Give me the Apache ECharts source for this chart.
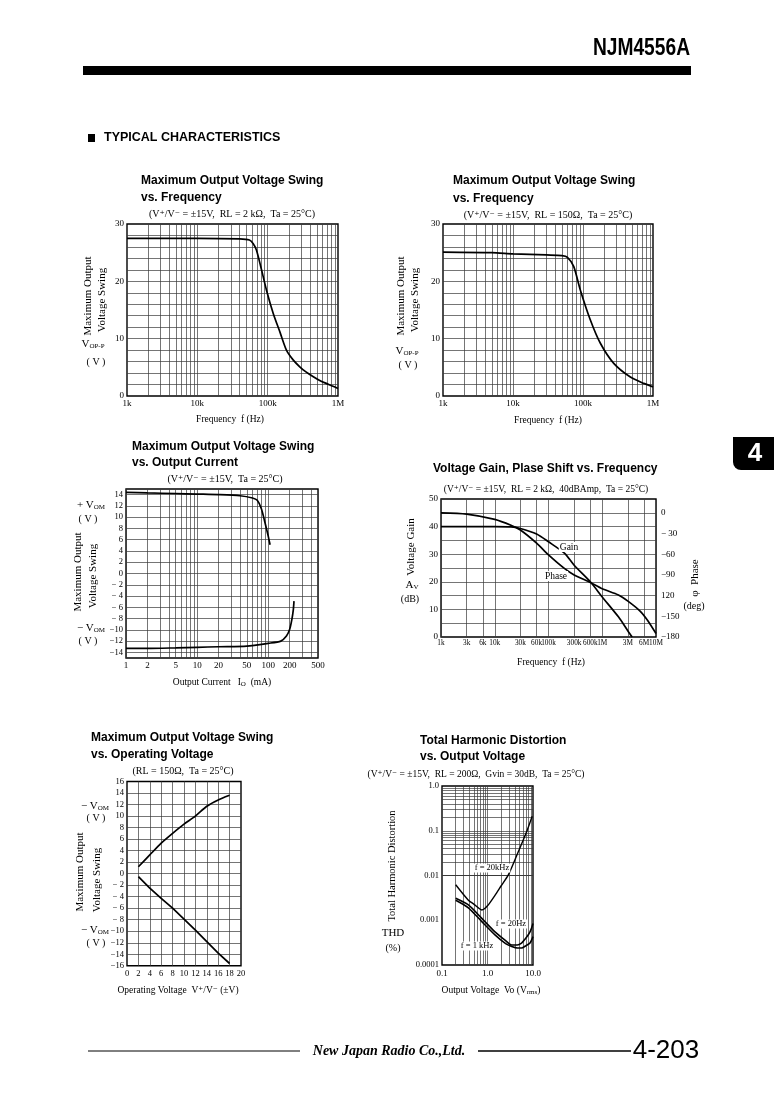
<!DOCTYPE html>
<html><head><meta charset="utf-8">
<script src="https://cdn.jsdelivr.net/npm/echarts@6/dist/echarts.min.js"></script>
<style>html,body{margin:0;padding:0;background:#fff}#c{width:774px;height:1093px}</style>
</head><body><div id="c"></div>
<script>
// ---------- DATA ----------
// Chart 1: Max output swing vs frequency (RL=2k)
const c1Freq  = [1000, 10000, 40000, 55000, 62000, 69000, 80000, 96000, 120000, 150000, 185000, 230000, 286000, 350000, 440000, 550000, 680000, 850000, 1000000];
const c1Swing = [27.5, 27.5, 27.4, 27.2, 26.6, 25.5, 22.5, 18.5, 14.4, 11.1, 8.0, 6.3, 5.1, 4.2, 3.4, 2.7, 2.2, 1.7, 1.3];
// Chart 2: Max output swing vs frequency (RL=150)
const c2Freq  = [1000, 5000, 10000, 30000, 50000, 60000, 73600, 91500, 127000, 177000, 275000, 475000, 737000, 1000000];
const c2Swing = [25.1, 25.0, 24.8, 24.6, 24.5, 24.2, 22.6, 18.5, 13.3, 9.2, 5.7, 3.3, 2.2, 1.6];
// Chart 3: Max output swing vs output current
const c3CurPos = [1, 2, 5, 10, 20, 40, 60, 70, 80, 90, 100, 106];
const c3VomPos = [14.4, 14.3, 14.2, 14.1, 14.0, 13.8, 13.4, 13.0, 11.5, 9.0, 6.6, 5.1];
const c3CurNeg = [1, 2, 5, 10, 20, 50, 100, 150, 180, 200, 215, 225, 230];
const c3VomNeg = [-13.3, -13.3, -13.2, -13.1, -13.0, -12.9, -12.4, -12.0, -11.1, -9.9, -8.1, -6.4, -4.9];
// Chart 4: Voltage gain / phase vs frequency
const c4GainFreq  = [1e3, 1e4, 2e4, 3e4, 6e4, 1e5, 2e5, 3e5, 6e5, 1e6, 2e6, 3e6, 3.6e6];
const c4Gain      = [40.0, 40.0, 39.9, 39.3, 37.3, 34.5, 30.3, 26.0, 20.0, 14.5, 7.3, 2.2, 0];
const c4PhaseFreq = [1e3, 3e3, 1e4, 2e4, 3e4, 6e4, 1e5, 2e5, 3e5, 6e5, 1e6, 2e6, 3e6, 5e6, 7e6, 1e7];
const c4Phase     = [0, -1.8, -9.5, -18, -25, -44, -61, -81, -90, -101, -110, -119, -128, -142, -156, -175];
// Chart 5: Max output swing vs operating voltage
const c5Supply = [2, 4, 6, 8, 10, 12, 14, 16, 18];
const c5Upper  = [1.2, 3.25, 5.3, 7.0, 8.6, 10.0, 11.7, 12.8, 13.6];
const c5Lower  = [-0.5, -2.5, -4.3, -6.0, -7.9, -9.8, -11.8, -13.8, -15.6];
// Chart 6: THD vs output voltage
const c6Vo20k  = [0.2, 0.38, 0.5, 0.75, 1.0, 1.46, 2.0, 2.87, 4.75, 7.25, 9.6];
const c6Thd20k = [0.0062, 0.0028, 0.0023, 0.0017, 0.0021, 0.0036, 0.0059, 0.0103, 0.034, 0.095, 0.21];
const c6Vo     = [0.2, 0.38, 0.75, 1.46, 2.5, 3.4, 4.5, 5.6, 7, 8.6, 10];
const c6Thd20  = [0.0031, 0.0022, 0.0011, 0.00055, 0.00035, 0.00028, 0.00028, 0.00031, 0.0004, 0.00055, 0.00085];
const c6Thd1k  = [0.0028, 0.0019, 0.00093, 0.00047, 0.0003, 0.00026, 0.00024, 0.00024, 0.00027, 0.00031, 0.00043];

// ---------- TICK LABELS ----------
const c1XLabels = ['1k', '10k', '100k', '1M'];
const c2XLabels = ['1k', '10k', '100k', '1M'];
const c12YTicks = [0, 10, 20, 30];
const c12YLabels = ['0', '10', '20', '30'];
const c3XTicks = [1, 2, 5, 10, 20, 50, 100, 200, 500];
const c3XLabels = ['1', '2', '5', '10', '20', '50', '100', '200', '500'];
const c3YTicks = [14, 12, 10, 8, 6, 4, 2, 0, -2, -4, -6, -8, -10, -12, -14];
const c3YLabels = ['14', '12', '10', '8', '6', '4', '2', '0', '− 2', '− 4', '− 6', '− 8', '−10', '−12', '−14'];
const c4XTicks = [1e3, 3e3, 6e3, 1e4, 3e4, 6e4, 1e5, 3e5, 6e5, 1e6, 3e6, 6e6, 1e7];
const c4XLabels = ['1k', '3k', '6k', '10k', '30k', '60k', '100k', '300k', '600k', '1M', '3M', '6M', '10M'];
const c4GainTicks = [0, 10, 20, 30, 40, 50];
const c4GainLabels = ['0', '10', '20', '30', '40', '50'];
const c4PhaseTicks = [0, -30, -60, -90, -120, -150, -180];
const c4PhaseLabels = ['0', '− 30', '−60', '−90', '120', '−150', '−180'];
const c5YTicks = [16, 14, 12, 10, 8, 6, 4, 2, 0, -2, -4, -6, -8, -10, -12, -14, -16];
const c5YLabels = ['16', '14', '12', '10', '8', '6', '4', '2', '0', '− 2', '− 4', '− 6', '− 8', '−10', '−12', '−14', '−16'];
const c5XTicks = [0, 2, 4, 6, 8, 10, 12, 14, 16, 18, 20];
const c5XLabels = ['0', '2', '4', '6', '8', '10', '12', '14', '16', '18', '20'];
const c6YLabels = ['0.0001', '0.001', '0.01', '0.1', '1.0'];
const c6XLabels = ['0.1', '1.0', '10.0'];

// ---------- STYLE ----------
const SERIF = '"Liberation Serif","DejaVu Serif",serif';
const SANS = '"Liberation Sans",Arial,sans-serif';
const GRIDC = '#3a3a3a';

function logPaper(fromExp, toExp) { // log-paper rule positions (1..9 x decade), interior
  const out = [];
  for (let e = fromExp; e < toExp; e++) for (let m = 1; m <= 9; m++) { const v = m * Math.pow(10, e); out.push(+v.toPrecision(6)); }
  return out.slice(1);
}
function steps(a, b, s) { const o = []; for (let v = a; v <= b + 1e-9; v += s) o.push(v); return o; }
function pick(ticks, labels) { return v => { const i = ticks.findIndex(t => Math.abs(t - v) < 1e-6); return i >= 0 ? labels[i] : ''; }; }
function pickLog(labels, offset) { return v => labels[Math.round(Math.log10(v)) - offset] || ''; }

function rules(xs, ys, xLabelTicks, xLabelTexts, fs) {
  const data = [];
  const labelled = new Set((xLabelTicks || []).map(v => +v.toPrecision(6)));
  xs.filter(v => !labelled.has(+v.toPrecision(6))).forEach(v => data.push({ xAxis: v }));
  ys.forEach(v => data.push({ yAxis: v }));
  (xLabelTicks || []).forEach((v, i) => data.push({ xAxis: v,
    label: { show: true, formatter: xLabelTexts[i], position: 'start', distance: 3, fontFamily: SERIF, fontSize: fs || 9, color: '#000' } }));
  return { silent: true, symbol: 'none', animation: false, z: 1,
    lineStyle: { color: GRIDC, width: 0.7, type: 'solid' },
    label: { show: false }, emphasis: { disabled: true }, data };
}
function line(xi, yi, xs, ys, ml, w, sm) {
  return { type: 'line', xAxisIndex: xi, yAxisIndex: yi, data: xs.map((x, i) => [x, ys[i]]),
    showSymbol: false, symbol: 'none', smooth: sm === undefined ? 0.25 : sm,
    lineStyle: { color: '#000', width: w || 1.7 }, silent: true, animation: false, z: 5,
    markLine: ml };
}
const lbl = (extra) => Object.assign({ fontFamily: SERIF, fontSize: 9, color: '#000', margin: 3, showMinLabel: true, showMaxLabel: true }, extra);
function ax(type, gi, min, max, extra) {
  return Object.assign({ type, gridIndex: gi, min, max, axisLine: { show: false }, axisTick: { show: false },
    splitLine: { show: false }, minorSplitLine: { show: false } }, extra);
}

const grids = [
  { left: 127, top: 224, width: 211, height: 172 },
  { left: 443, top: 224, width: 210, height: 172 },
  { left: 126, top: 489, width: 192, height: 169 },
  { left: 441, top: 499, width: 215, height: 138 },
  { left: 127, top: 781.5, width: 114, height: 184.3 },
  { left: 442, top: 786, width: 91, height: 179 }
].map(g => Object.assign(g, { show: true, borderColor: '#000', borderWidth: 1.4, backgroundColor: 'transparent', containLabel: false, outerBoundsMode: 'none' }));

const xAxes = [
  ax('log', 0, 1e3, 1e6, { logBase: 10, axisLabel: lbl({ formatter: pickLog(c1XLabels, 3), margin: 3 }) }),
  ax('log', 1, 1e3, 1e6, { logBase: 10, axisLabel: lbl({ formatter: pickLog(c2XLabels, 3), margin: 3 }) }),
  ax('log', 2, 1, 500, { logBase: 10, axisLabel: { show: false } }),
  ax('log', 3, 1e3, 1e7, { logBase: 10, axisLabel: { show: false } }),
  ax('value', 4, 0, 20, { interval: 2, axisLabel: lbl({ formatter: pick(c5XTicks, c5XLabels), fontSize: 8.5, margin: 3 }) }),
  ax('log', 5, 0.1, 10, { logBase: 10, axisLabel: lbl({ formatter: pickLog(c6XLabels, -1), margin: 4 }) })
];
const yAxes = [
  ax('value', 0, 0, 30, { interval: 2, axisLabel: lbl({ formatter: pick(c12YTicks, c12YLabels) }) }),
  ax('value', 1, 0, 30, { interval: 2, axisLabel: lbl({ formatter: pick(c12YTicks, c12YLabels) }) }),
  ax('value', 2, -15, 15, { interval: 1, axisLabel: lbl({ formatter: pick(c3YTicks, c3YLabels), fontSize: 8.5 }) }),
  ax('value', 3, 0, 50, { interval: 5, axisLabel: lbl({ formatter: pick(c4GainTicks, c4GainLabels) }) }),
  ax('value', 3, -180, 20, { interval: 10, position: 'right', axisLabel: lbl({ formatter: pick(c4PhaseTicks, c4PhaseLabels), margin: 5 }) }),
  ax('value', 4, -16, 16, { interval: 2, axisLabel: lbl({ formatter: pick(c5YTicks, c5YLabels), fontSize: 8.5 }) }),
  ax('log', 5, 0.0001, 1, { logBase: 10, axisLabel: lbl({ formatter: pickLog(c6YLabels, -4), fontSize: 8.5 }) })
];

const series = [
  line(0, 0, c1Freq, c1Swing, rules(logPaper(3, 6), steps(2, 28, 2))),
  line(1, 1, c2Freq, c2Swing, rules(logPaper(3, 6), steps(2, 28, 2))),
  line(2, 2, c3CurPos, c3VomPos, rules(logPaper(0, 3).filter(v => v < 500), steps(-14, 14, 2), c3XTicks, c3XLabels, 9)),
  line(2, 2, c3CurNeg, c3VomNeg),
  line(3, 3, c4GainFreq, c4Gain, rules(c4XTicks.slice(1, -1), steps(5, 45, 5), c4XTicks, c4XLabels, 7.3)),
  line(3, 4, c4PhaseFreq, c4Phase),
  line(4, 5, c5Supply, c5Upper, rules(steps(2, 18, 2), steps(-14, 14, 2)), 1.7, 0.2),
  line(4, 5, c5Supply, c5Lower, null, 1.7, 0),
  line(5, 6, c6Vo20k, c6Thd20k, rules(logPaper(-1, 1), logPaper(-4, 0)), 1.4),
  line(5, 6, c6Vo, c6Thd20, null, 1.6),
  line(5, 6, c6Vo, c6Thd1k, null, 1.6)
];

// ---------- TEXT / DECOR ----------
const G = [];
function txt(x, y, text, o) {
  o = o || {};
  G.push({ type: 'text', x, y, rotation: o.rot || 0, scaleX: o.sx || 1, silent: true, z: 10,
    style: { text, fill: o.color || '#000', fontFamily: o.family || SERIF, fontSize: o.size || 10,
      fontWeight: o.weight || 'normal', fontStyle: o.style || 'normal',
      align: o.align || 'center', textAlign: o.align || 'center', verticalAlign: 'middle', textVerticalAlign: 'middle',
      backgroundColor: o.bg, padding: o.bg ? [0, 1] : 0, rich: o.rich } });
}
const title = (x, y, t) => txt(x, y, t, { family: SANS, weight: 'bold', size: 12, align: 'left' });
const rot = (x, y, t, s) => txt(x, y, t, { rot: Math.PI / 2, size: s || 11 });
const subRich = { s: { fontSize: 7, fontFamily: SERIF, verticalAlign: 'bottom', padding: [4, 0, 0, 0] } };

// header
txt(690, 48, 'NJM4556A', { family: SANS, weight: 'bold', size: 24, align: 'right', sx: 0.8 });
G.push({ type: 'rect', shape: { x: 83, y: 66, width: 608, height: 9 }, style: { fill: '#000' }, silent: true });
G.push({ type: 'rect', shape: { x: 88, y: 134, width: 7, height: 8 }, style: { fill: '#000' }, silent: true });
txt(104, 138, 'TYPICAL CHARACTERISTICS', { family: SANS, weight: 'bold', size: 12.5, align: 'left' });
// section tab
G.push({ type: 'rect', shape: { x: 733, y: 437, width: 41, height: 33, r: [0, 0, 0, 8] }, style: { fill: '#000' }, silent: true });
txt(755, 454, '4', { family: SANS, weight: 'bold', size: 26, color: '#fff' });

// chart 1
title(141, 181, 'Maximum Output Voltage Swing'); title(141, 198, 'vs. Frequency');
txt(232, 214, '(V⁺/V⁻ = ±15V,  RL = 2 kΩ,  Ta = 25°C)');
rot(88, 296, 'Maximum Output'); rot(102, 300, 'Voltage Swing');
txt(93, 344, 'V{s|OP-P}', { size: 11, rich: subRich }); txt(96, 362, '( V )');
txt(230, 419, 'Frequency  f (Hz)', { size: 9.5 });
// chart 2
title(453, 181, 'Maximum Output Voltage Swing'); title(453, 199, 'vs. Frequency');
txt(548, 215, '(V⁺/V⁻ = ±15V,  RL = 150Ω,  Ta = 25°C)');
rot(401, 296, 'Maximum Output'); rot(415, 300, 'Voltage Swing');
txt(407, 351, 'V{s|OP-P}', { size: 11, rich: subRich }); txt(408, 365, '( V )');
txt(548, 420, 'Frequency  f (Hz)', { size: 9.5 });
// chart 3
title(132, 447, 'Maximum Output Voltage Swing'); title(132, 463, 'vs. Output Current');
txt(225, 479, '(V⁺/V⁻ = ±15V,  Ta = 25°C)');
txt(91, 505, '+ V{s|OM}', { size: 11, rich: subRich }); txt(88, 519, '( V )');
rot(78, 572, 'Maximum Output'); rot(93, 576, 'Voltage Swing');
txt(91, 628, '− V{s|OM}', { size: 11, rich: subRich }); txt(88, 641, '( V )');
txt(222, 682, 'Output Current   I{s|O}  (mA)', { size: 9.5, rich: subRich });
// chart 4
title(433, 469, 'Voltage Gain, Plase Shift vs. Frequency');
txt(546, 489, '(V⁺/V⁻ = ±15V,  RL = 2 kΩ,  40dBAmp,  Ta = 25°C)', { size: 9.5 });
rot(411, 547, 'Voltage Gain');
txt(412, 585, 'A{s|V}', { size: 11, rich: subRich }); txt(410, 599, '(dB)');
rot(695, 578, 'φ  Phase'); txt(694, 606, '(deg)');
txt(551, 662, 'Frequency  f (Hz)', { size: 9.5 });
txt(569, 547, 'Gain', { size: 9.5, bg: '#fff' });
txt(556, 576, 'Phase', { size: 9.5, bg: '#fff' });
// chart 5
title(91, 738, 'Maximum Output Voltage Swing'); title(91, 755, 'vs. Operating Voltage');
txt(183, 771, '(RL = 150Ω,  Ta = 25°C)');
txt(95, 806, '− V{s|OM}', { size: 11, rich: subRich }); txt(96, 818, '( V )');
rot(80, 872, 'Maximum Output'); rot(97, 880, 'Voltage Swing');
txt(95, 930, '− V{s|OM}', { size: 11, rich: subRich }); txt(96, 943, '( V )');
txt(178, 990, 'Operating Voltage  V⁺/V⁻ (±V)', { size: 9.5 });
// chart 6
title(420, 741, 'Total Harmonic Distortion'); title(420, 757, 'vs. Output Voltage');
txt(476, 774, '(V⁺/V⁻ = ±15V,  RL = 200Ω,  Gvin = 30dB,  Ta = 25°C)', { size: 9.5 });
rot(392, 866, 'Total Harmonic Distortion', 10.5);
txt(393, 933, 'THD', { size: 11 }); txt(393, 948, '(%)');
txt(491, 990, 'Output Voltage  Vo (V{s|rms})', { size: 9.5, rich: subRich });
txt(492, 868, 'f = 20kHz', { size: 8.5, bg: '#fff' });
txt(511, 924, 'f = 20Hz', { size: 8.5, bg: '#fff' });
txt(477, 946, 'f = 1 kHz', { size: 8.5, bg: '#fff' });

// footer
G.push({ type: 'line', shape: { x1: 88, y1: 1051, x2: 300, y2: 1051 }, style: { stroke: '#000', lineWidth: 1 }, silent: true });
txt(389, 1051, 'New Japan Radio Co.,Ltd.', { family: SERIF, weight: 'bold', style: 'italic', size: 14 });
G.push({ type: 'line', shape: { x1: 478, y1: 1051, x2: 631, y2: 1051 }, style: { stroke: '#000', lineWidth: 1.5 }, silent: true });
txt(666, 1051, '4-203', { family: SANS, size: 26 });

const chart = echarts.init(document.getElementById('c'), null, { renderer: 'canvas', width: 774, height: 1093 });
chart.setOption({
  animation: false,
  backgroundColor: '#fff',
  textStyle: { fontFamily: SERIF },
  grid: grids, xAxis: xAxes, yAxis: yAxes, series, graphic: G
});
</script></body></html>
